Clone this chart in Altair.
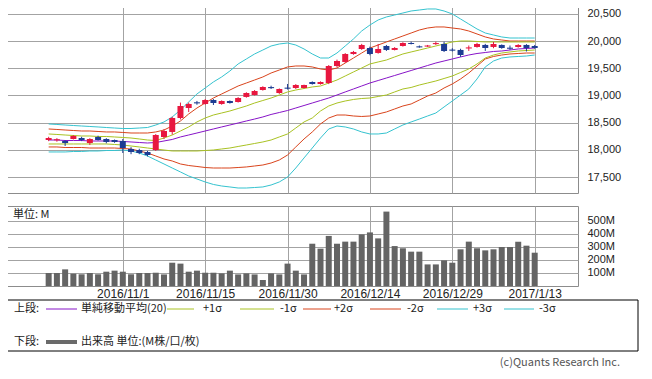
import altair as alt
import pandas as pd

# ---------------- data ----------------
idx = list(range(60))
opens = [18181, 18175, 18163, 18200, 18218, 18126, 18236, 18200, 18181, 18163,
         18016, 17997, 17960, 17997, 18236, 18329, 18586, 18770, 18875, 18844,
         18917, 18844, 18899, 18880, 18973, 19009, 19101, 19155, 19046, 19145,
         19138, 19138, 19248, 19212, 19230, 19543, 19617, 19764, 19856, 19874,
         19783, 19911, 19838, 19911, 19966, 19905, 19900, 19945, 19948, 19845,
         19838, 19865, 19893, 19930, 19893, 19930, 19880, 19893, 19930, 19911]
closes = [18218, 18195, 18126, 18255, 18181, 18200, 18181, 18145, 18145, 18034,
          17960, 17942, 17905, 18273, 18347, 18586, 18807, 18844, 18855, 18917,
          18862, 18899, 18862, 18954, 19046, 19083, 19157, 19135, 19120, 19125,
          19193, 19193, 19212, 19248, 19543, 19635, 19764, 19801, 19929, 19764,
          19856, 19838, 19874, 19966, 19948, 19885, 19920, 19965, 19819, 19825,
          19745, 19885, 19948, 19874, 19948, 19874, 19860, 19930, 19874, 19874]
highs = [18240, 18215, 18180, 18270, 18240, 18215, 18260, 18215, 18190, 18200,
         18050, 18020, 17980, 18290, 18380, 18610, 18870, 18870, 18900, 18935,
         18935, 18910, 18910, 18970, 19060, 19100, 19170, 19180, 19130, 19212,
         19210, 19200, 19260, 19260, 19560, 19660, 19780, 19820, 19950, 19900,
         19948, 19930, 19890, 19980, 19990, 19920, 19930, 19990, 19990, 19870,
         19860, 19920, 19970, 19950, 19985, 19940, 19920, 19945, 19945, 19930]
lows = [18160, 18150, 18071, 18190, 18160, 18090, 18170, 18120, 18130, 17942,
        17920, 17920, 17880, 17980, 18200, 18280, 18560, 18696, 18830, 18830,
        18825, 18830, 18850, 18870, 18960, 19000, 19090, 19120, 19030, 19110,
        19120, 19130, 19200, 19200, 19210, 19520, 19600, 19750, 19840, 19740,
        19770, 19820, 19830, 19900, 19940, 19880, 19895, 19930, 19800, 19810,
        19710, 19820, 19880, 19820, 19870, 19860, 19840, 19880, 19810, 19860]

sma20 = [18181, 18181, 18172, 18172, 18172, 18163, 18163, 18163, 18163, 18154,
         18145, 18135, 18126, 18135, 18163, 18191, 18237, 18273, 18310, 18347,
         18384, 18421, 18457, 18494, 18531, 18567, 18605, 18651, 18687, 18724,
         18770, 18816, 18862, 18908, 18954, 19009, 19065, 19120, 19175, 19230,
         19276, 19322, 19368, 19414, 19460, 19506, 19552, 19598, 19635, 19672,
         19709, 19745, 19773, 19791, 19810, 19819, 19837, 19856, 19865, 19874]
plus1 = [18292, 18283, 18273, 18264, 18255, 18255, 18246, 18246, 18237, 18228,
         18218, 18200, 18181, 18172, 18218, 18273, 18347, 18421, 18513, 18586,
         18641, 18678, 18715, 18761, 18807, 18862, 18908, 18954, 19009, 19065,
         19101, 19129, 19157, 19175, 19230, 19285, 19359, 19433, 19506, 19580,
         19617, 19653, 19709, 19764, 19801, 19837, 19874, 19911, 19948, 19985,
         20003, 20003, 19994, 19985, 19985, 19985, 19985, 19985, 19985, 19985]
minus1 = [18108, 18108, 18108, 18108, 18108, 18108, 18108, 18108, 18099, 18089,
          18071, 18053, 18034, 18016, 17997, 17979, 17979, 17979, 17979, 17988,
          17997, 18016, 18034, 18062, 18089, 18117, 18145, 18181, 18237, 18292,
          18402, 18513, 18586, 18715, 18807, 18862, 18899, 18927, 18945, 18954,
          18982, 19009, 19065, 19120, 19148, 19193, 19230, 19267, 19313, 19359,
          19423, 19488, 19580, 19690, 19745, 19782, 19801, 19819, 19828, 19837]
plus2 = [18384, 18375, 18365, 18356, 18347, 18347, 18338, 18329, 18329, 18320,
         18310, 18310, 18310, 18329, 18365, 18439, 18531, 18660, 18770, 18862,
         18954, 19028, 19101, 19175, 19230, 19285, 19341, 19414, 19469, 19525,
         19543, 19543, 19525, 19488, 19469, 19506, 19598, 19690, 19782, 19874,
         19929, 19985, 20040, 20095, 20150, 20205, 20242, 20261, 20261, 20242,
         20224, 20187, 20132, 20077, 20040, 20021, 20003, 20003, 20003, 20003]
minus2 = [18053, 18053, 18043, 18043, 18043, 18034, 18034, 18034, 18034, 18025,
          18016, 17979, 17942, 17887, 17832, 17795, 17740, 17712, 17694, 17675,
          17666, 17666, 17666, 17675, 17685, 17703, 17721, 17758, 17813, 17905,
          18053, 18200, 18329, 18476, 18586, 18641, 18641, 18623, 18614, 18623,
          18660, 18697, 18752, 18807, 18844, 18917, 18991, 19046, 19138, 19212,
          19304, 19414, 19543, 19672, 19718, 19745, 19764, 19773, 19782, 19782]
plus3 = [18476, 18467, 18457, 18448, 18439, 18430, 18421, 18411, 18402, 18393,
         18393, 18402, 18411, 18457, 18513, 18605, 18733, 18881, 19028, 19138,
         19249, 19341, 19451, 19580, 19672, 19764, 19837, 19911, 19948, 19966,
         19929, 19856, 19764, 19690, 19690, 19782, 19911, 20040, 20187, 20297,
         20390, 20445, 20481, 20518, 20555, 20573, 20592, 20592, 20555, 20500,
         20408, 20316, 20224, 20150, 20113, 20077, 20058, 20058, 20058, 20058]
minus3 = [17961, 17961, 17961, 17970, 17970, 17979, 17979, 17988, 17988, 17997,
          17979, 17942, 17887, 17813, 17740, 17666, 17593, 17519, 17464, 17409,
          17363, 17335, 17317, 17298, 17298, 17307, 17317, 17353, 17409, 17500,
          17666, 17851, 18034, 18218, 18384, 18439, 18421, 18384, 18329, 18292,
          18292, 18310, 18384, 18457, 18513, 18567, 18623, 18678, 18789, 18899,
          19009, 19120, 19304, 19525, 19635, 19690, 19709, 19718, 19727, 19745]

volume_m = [100, 100, 128, 95, 90, 100, 90, 110, 118, 110,
            90, 100, 100, 102, 89, 179, 172, 110, 118, 102,
            102, 97, 118, 89, 97, 89, 46, 97, 89, 172,
            118, 89, 325, 287, 385, 325, 341, 341, 397, 412,
            366, 572, 307, 290, 264, 264, 166, 166, 197, 179,
            282, 341, 290, 274, 282, 300, 300, 341, 310, 256]

tick_idx = [9, 19, 29, 39, 49, 59]
tick_labels = ["2016/11/1", "2016/11/15", "2016/11/30",
               "2016/12/14", "2016/12/29", "2017/1/13"]
price_ticks = [17500, 18000, 18500, 19000, 19500, 20000, 20500]
vol_ticks = [100, 200, 300, 400, 500]

band_names = ["-3σ", "-2σ", "-1σ", "+3σ", "+2σ", "+1σ", "単純移動平均(20)"]
band_colors = ["#35c3cf", "#d9441c", "#a9c222", "#35c3cf", "#d9441c", "#a9c222", "#8714c8"]
UP_COLOR = "#e8173f"
DOWN_COLOR = "#1d3c92"

# ---------------- table ----------------
df = pd.DataFrame({
    "idx": idx, "open": opens, "close": closes, "high": highs, "low": lows,
    "vol": volume_m,
    "単純移動平均(20)": sma20, "+1σ": plus1, "-1σ": minus1,
    "+2σ": plus2, "-2σ": minus2, "+3σ": plus3, "-3σ": minus3,
})
df["up"] = [c >= o for o, c in zip(opens, closes)]
df["body_lo"] = df[["open", "close"]].min(axis=1)
df["body_hi"] = df[["open", "close"]].max(axis=1)

FONT = "Liberation Sans"
JFONT = "Noto Sans CJK JP"
GRID = "#a3a3a3"
TXT = "#222222"

xs = alt.Scale(domain=[-4.45, 63.65], nice=False, zero=False)
ps = alt.Scale(domain=[17206, 20702], nice=False, zero=False)
vs = alt.Scale(domain=[0, 615], nice=False, zero=False)

label_expr = " : ".join(
    f"datum.value == {v} ? '{t}'" for v, t in zip(tick_idx, tick_labels)) + " : ''"

x_top_axis = alt.Axis(
    values=tick_idx, grid=True, gridColor=GRID, labels=False, ticks=False,
    domain=False, title=None)
y_price_axis = alt.Axis(
    orient="right", values=price_ticks, format=",.0f", grid=True, gridColor=GRID,
    ticks=False, domain=False, labelPadding=9, title=None, labelFont=FONT,
    labelFontSize=11, labelColor=TXT)


def xt():
    return alt.X("idx:Q", scale=xs, axis=x_top_axis)


def yp(field):
    return alt.Y(field, scale=ps, axis=y_price_axis)


base = alt.Chart(df)

bands = base.transform_fold(band_names, as_=["band", "value"]).mark_line(
    strokeWidth=1, clip=True).encode(
    x=xt(),
    y=yp("value:Q"),
    color=alt.Color("band:N", scale=alt.Scale(domain=band_names, range=band_colors), legend=None),
    detail="band:N",
)

candle_layers = []
for is_up, col in ((True, UP_COLOR), (False, DOWN_COLOR)):
    flt = "datum.up" if is_up else "!datum.up"
    candle_layers.append(base.transform_filter(flt).mark_rule(strokeWidth=1, color=col).encode(
        x=xt(), y=yp("low:Q"), y2="high:Q"))
    candle_layers.append(base.transform_filter(flt).mark_bar(size=6, color=col).encode(
        x=xt(), y=yp("body_lo:Q"), y2="body_hi:Q"))

top = alt.layer(bands, *candle_layers).properties(width=571, height=190)

# ---------------- volume panel ----------------
x_bot = alt.X("idx:Q", scale=xs, axis=alt.Axis(
    values=tick_idx, grid=True, gridColor=GRID, ticks=False, domain=False,
    labelExpr=label_expr, labelPadding=2, labelFont=FONT, labelFontSize=12,
    labelColor=TXT, labelOverlap=False, labelFlush=False, title=None))

vol_bars = base.mark_bar(size=6, color="#646464").encode(
    x=x_bot,
    y=alt.Y("vol:Q", scale=vs, axis=alt.Axis(
        orient="right", values=vol_ticks, labelExpr="datum.value + 'M'", grid=True,
        gridColor=GRID, ticks=False, domain=False, labelPadding=9, title=None,
        labelFont=FONT, labelFontSize=11, labelColor=TXT)),
)

one = alt.Data(values=[{"k": 0}])


def txt(s, x, y, align="left", color=TXT, size=11, font=JFONT):
    return alt.Chart(one).mark_text(align=align, baseline="middle", font=font,
                                    fontSize=size, color=color).encode(
        x=alt.value(x), y=alt.value(y), text=alt.value(s))


def seg(x1, x2, y, color, w=1):
    return alt.Chart(one).mark_rule(color=color, strokeWidth=w).encode(
        x=alt.value(x1), x2=alt.value(x2), y=alt.value(y))


unit_lbl = txt("単位: M", 6, 9)

legend_box = alt.Chart(one).mark_rect(fillOpacity=0, stroke="#000000", strokeWidth=1).encode(
    x=alt.value(0), x2=alt.value(631), y=alt.value(94), y2=alt.value(145))

r1, r2 = 103, 136
legend_layers = [
    legend_box,
    txt("上段:", 7, r1),
    seg(39, 70, r1, "#8714c8"), txt("単純移動平均(20)", 74, r1),
    seg(160, 187, r1, "#a9c222"), txt("+1σ", 196, r1),
    seg(233, 267, r1, "#a9c222"), txt("-1σ", 273, r1),
    seg(296, 324, r1, "#d9441c"), txt("+2σ", 327, r1),
    seg(363, 394, r1, "#d9441c"), txt("-2σ", 400, r1),
    seg(430, 461, r1, "#35c3cf"), txt("+3σ", 466, r1),
    seg(497, 527, r1, "#35c3cf"), txt("-3σ", 532, r1),
    txt("下段:", 7, r2),
    seg(39, 70, r2, "#6a6a6a", 4), txt("出来高 単位:(M株/口/枚)", 74, r2),
    txt("(c)Quants Research Inc.", 613, 157, align="right", color="#555555"),
]

bottom = alt.layer(vol_bars, unit_lbl, *legend_layers).properties(width=571, height=80)

chart = alt.vconcat(top, bottom, spacing=11).properties(
    padding={"left": -2, "top": -6, "right": 0, "bottom": 0},
    background="white",
).configure_view(stroke="#8c8c8c", strokeWidth=1)

chart.save("out.html", embed_options={"renderer": "svg", "actions": False})
